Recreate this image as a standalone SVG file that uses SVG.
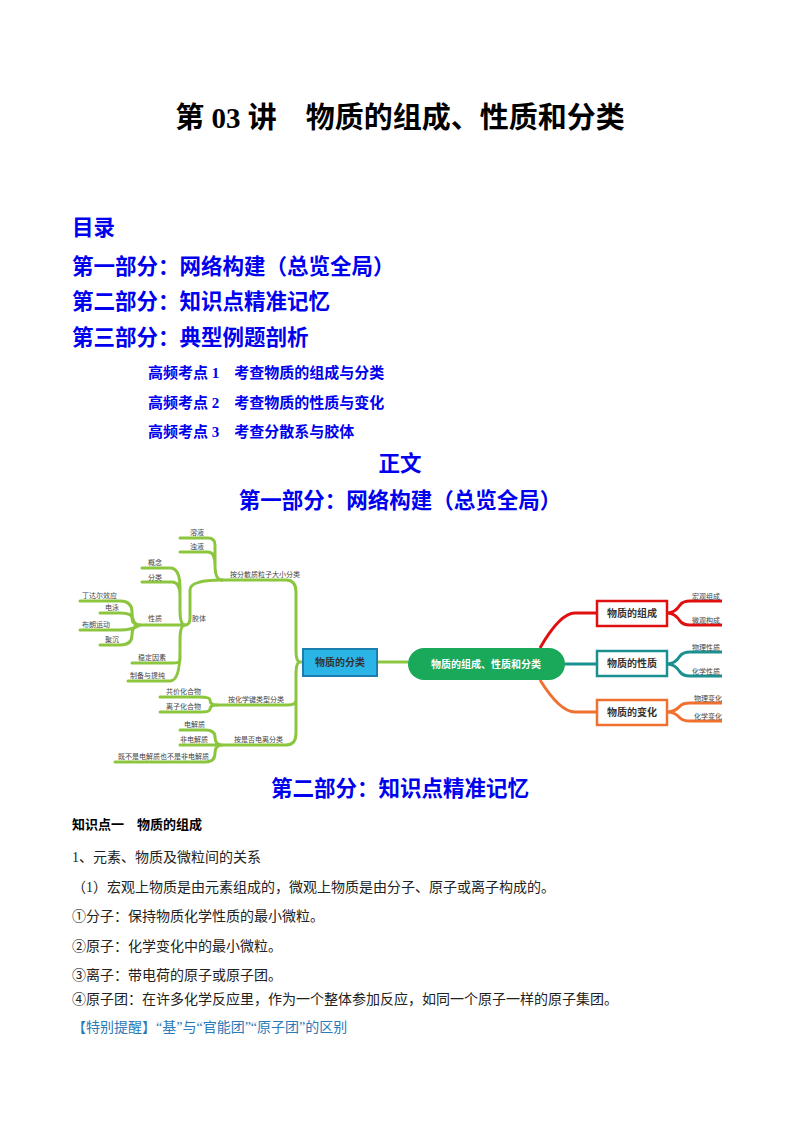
<svg xmlns="http://www.w3.org/2000/svg" width="800" height="1132" viewBox="0 0 800 1132">
<style>
.t{font-family:"Liberation Serif","Noto Sans CJK SC",serif;font-weight:bold}
.h{fill:#0000ee;font-size:21.5px}
.s{fill:#0000ee;font-size:15px}
.b{font-family:"Liberation Serif","Noto Sans CJK SC",serif;font-size:14px;fill:#222}
.g{fill:none;stroke:#8cc63f;stroke-width:3;stroke-linecap:round}
.l{font-family:"Noto Sans CJK SC",sans-serif;font-size:7px;fill:#444}
.n{font-family:"Noto Sans CJK SC",sans-serif;font-size:10px;font-weight:bold;fill:#333;text-anchor:middle}
</style>
<rect width="800" height="1132" fill="#fff"/>
<text class="t" x="400" y="128" font-size="29" text-anchor="middle">第 03 讲　物质的组成、性质和分类</text>
<text class="t h" x="72" y="235">目录</text>
<text class="t h" x="72" y="274">第一部分：网络构建（总览全局）</text>
<text class="t h" x="72" y="309">第二部分：知识点精准记忆</text>
<text class="t h" x="72" y="345">第三部分：典型例题剖析</text>
<text class="t s" x="148" y="378">高频考点 1　考查物质的组成与分类</text>
<text class="t s" x="148" y="408">高频考点 2　考查物质的性质与变化</text>
<text class="t s" x="148" y="437">高频考点 3　考查分散系与胶体</text>
<text class="t h" x="400" y="471" text-anchor="middle">正文</text>
<text class="t h" x="400" y="508" text-anchor="middle">第一部分：网络构建（总览全局）</text>

<g id="connectors">
<path class="g" d="M303 662 H300 Q296 662 296 650 V592 Q296 580 286 580 H222 M300 662 Q296 662 296 674 V733 Q296 745 286 745 H222 M296 700 Q296 705 288 705 H217"/>
<path class="g" d="M222 580 Q215 580 215 565 V545 Q215 538 208 538 H180 M215 565 Q215 552 208 552 H180"/>
<path class="g" d="M222 580 Q190 580 190 590 V618 Q190 625 185 625 H140"/>
<path class="g" d="M185 625 Q180 625 180 610 V588 Q180 568 170 568 H142 M180 595 Q180 582 172 582 H142 M185 625 Q180 625 180 640 V660 Q180 663 172 663 H132 M180 650 Q180 681 170 681 H128"/>
<path class="g" d="M140 625 Q132 625 132 612 Q132 601 120 601 H80 M140 625 Q132 625 132 618 Q132 613 120 613 H100 M140 625 Q132 630 120 630 H80 M140 625 Q132 625 132 635 Q132 645 120 645 H100"/>
<path class="g" d="M217 705 Q210 705 210 700 Q210 697 200 697 H160 M217 705 Q210 705 210 709 Q210 712 200 712 H160"/>
<path class="g" d="M222 745 Q215 745 215 737 Q215 730 205 730 H180 M222 745 H180 M222 745 Q215 745 215 753 Q215 762 205 762 H115"/>
<path fill="none" stroke="#e01010" stroke-width="3" d="M540 648 Q560 613 575 613 H597 M667 613 Q675 613 680 605 Q683 601 690 601 H722 M667 613 Q675 613 680 621 Q683 625 690 625 H722"/>
<path fill="none" stroke="#1a9090" stroke-width="3" d="M565 664 H597 M667 664 Q675 664 680 656 Q683 652 690 652 H722 M667 664 Q675 664 680 672 Q683 676 690 676 H722"/>
<path fill="none" stroke="#f07030" stroke-width="3" d="M540 680 Q560 712 575 712 H597 M667 712 Q675 712 680 706 Q683 703 690 703 H722 M667 712 Q675 712 680 718 Q683 721 690 721 H722"/>
<path fill="none" stroke="#8cc63f" stroke-width="3" d="M377 662 H408"/>
</g>

<g id="n-center"><rect x="408" y="648" width="157" height="32" rx="16" fill="#1aa85a"/><text class="n" x="486" y="668" style="fill:#fff">物质的组成、性质和分类</text></g>
<g id="n-class"><rect x="303" y="649" width="74" height="27" fill="#2bb5e6" stroke="#1a7fb0" stroke-width="2"/><text class="n" x="340" y="666">物质的分类</text></g>
<g id="n-comp"><rect x="597" y="601" width="70" height="25" fill="#fff" stroke="#e01010" stroke-width="2.5"/><text class="n" x="632" y="617">物质的组成</text></g>
<g id="n-prop"><rect x="597" y="651" width="70" height="25" fill="#fff" stroke="#1a9090" stroke-width="2.5"/><text class="n" x="632" y="667">物质的性质</text></g>
<g id="n-chg"><rect x="597" y="700" width="70" height="25" fill="#fff" stroke="#f07030" stroke-width="2.5"/><text class="n" x="632" y="716">物质的变化</text></g>

<g id="leaves">
<text class="l" x="692" y="599" font-size="6">宏观组成</text><text class="l" x="692" y="623" font-size="6">微观构成</text>
<text class="l" x="692" y="650" font-size="6">物理性质</text><text class="l" x="692" y="674" font-size="6">化学性质</text>
<text class="l" x="694" y="701" font-size="6">物理变化</text><text class="l" x="694" y="719" font-size="6">化学变化</text>
<text class="l" x="230" y="577">按分散质粒子大小分类</text>
<text class="l" x="190" y="535">溶液</text><text class="l" x="190" y="549">浊液</text>
<text class="l" x="192" y="621">胶体</text>
<text class="l" x="148" y="565">概念</text><text class="l" x="148" y="580">分类</text>
<text class="l" x="148" y="621">性质</text>
<text class="l" x="138" y="660">稳定因素</text><text class="l" x="130" y="678">制备与提纯</text>
<text class="l" x="82" y="598">丁达尔效应</text><text class="l" x="105" y="610">电泳</text>
<text class="l" x="82" y="627">布朗运动</text><text class="l" x="105" y="642">聚沉</text>
<text class="l" x="228" y="702">按化学键类型分类</text>
<text class="l" x="166" y="694">共价化合物</text><text class="l" x="166" y="709">离子化合物</text>
<text class="l" x="234" y="742">按是否电离分类</text>
<text class="l" x="184" y="727">电解质</text><text class="l" x="180" y="742">非电解质</text>
<text class="l" x="118" y="759">既不是电解质也不是非电解质</text>
</g>

<text class="t h" x="400" y="796" text-anchor="middle">第二部分：知识点精准记忆</text>
<text class="t" x="72" y="829" font-size="13">知识点一　物质的组成</text>
<text class="b" x="72" y="862">1、元素、物质及微粒间的关系</text>
<text class="b" x="72" y="892">（1）宏观上物质是由元素组成的，微观上物质是由分子、原子或离子构成的。</text>
<text class="b" x="72" y="921">①分子：保持物质化学性质的最小微粒。</text>
<text class="b" x="72" y="951">②原子：化学变化中的最小微粒。</text>
<text class="b" x="72" y="980">③离子：带电荷的原子或原子团。</text>
<text class="b" x="72" y="1004">④原子团：在许多化学反应里，作为一个整体参加反应，如同一个原子一样的原子集团。</text>
<text class="b" x="72" y="1032" style="fill:#2a7ab8">【特别提醒】“基”与“官能团”“原子团”的区别</text>
</svg>
